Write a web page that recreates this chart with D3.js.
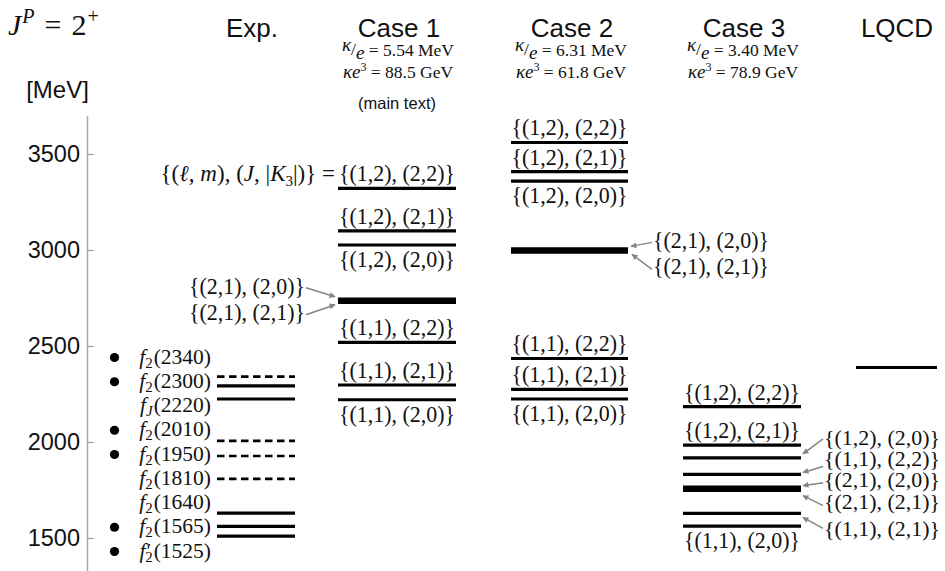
<!DOCTYPE html>
<html><head><meta charset="utf-8">
<script src="https://cdn.jsdelivr.net/npm/d3@7"></script>
<style>body{margin:0;background:#fff} svg{display:block}</style>
</head><body><svg id="c" width="945" height="571"></svg>
<script>
// ---------------- data ----------------
const columns = ["Exp.", "Case 1", "Case 2", "Case 3", "LQCD"];
const yTicks = [1500, 2000, 2500, 3000, 3500];

const expNumbers = ["2340", "2300", "2220", "2010", "1950", "1810", "1640", "1565", "1525"];
const expSymbols = ["f2", "f2", "fJ", "f2", "f2", "f2", "f2", "f2", "f2'"];
const expMass = [2340, 2292, 2224, 2006, 1927, 1808, 1630, 1561, 1510];
const expEstablished = [true, true, false, true, true, false, false, true, true];
const expDashed = [true, false, false, true, true, true, false, false, false];

const stateLabels = ["{(1,2), (2,2)}", "{(1,2), (2,1)}", "{(1,2), (2,0)}", "{(2,1), (2,0)}",
                     "{(2,1), (2,1)}", "{(1,1), (2,2)}", "{(1,1), (2,1)}", "{(1,1), (2,0)}"];
const case1Mass = [3321, 3100, 3026, 2736, 2736, 2519, 2297, 2220];
const case2Mass = [3560, 3408, 3359, 2998, 2998, 2435, 2274, 2224];
const case3Mass = [2184, 1984, 1917, 1757, 1757, 1831, 1628, 1562];
const kappaOverE = ["5.54", "6.31", "3.40"];
const kappaE3 = ["88.5", "61.8", "78.9"];
const lqcdMass = [2388];

// ---------------- layout ----------------
const svg = d3.select("#c");
const SERIF = "'Liberation Serif', 'DejaVu Serif', serif";
const SANS = "'Liberation Sans', Arial, Helvetica, sans-serif";

const y = d3.scaleLinear().domain([1500, 3500]).range([538, 154]);
const colX0 = d3.scaleOrdinal().domain(columns).range([217, 338, 511, 683, 856]);
const colW = d3.scaleOrdinal().domain(columns).range([78, 118, 117, 118, 81]);
const colCenter = d3.scaleOrdinal().domain(columns).range([252, 399, 572, 744, 897]);

// arrow marker
svg.append("defs").append("marker")
  .attr("id", "ah").attr("viewBox", "0 0 10 10").attr("refX", 9).attr("refY", 5)
  .attr("markerWidth", 7).attr("markerHeight", 6).attr("markerUnits", "userSpaceOnUse")
  .attr("orient", "auto")
  .append("path").attr("d", "M0,0 L10,5 L0,10 Z").attr("fill", "#858585");

// axis
const axisG = svg.append("g").attr("transform", "translate(87.5,0)");
const axis = d3.axisRight(y).tickValues(yTicks).tickSize(6).tickFormat("");
axisG.call(axis);
axisG.select(".domain").remove();
axisG.selectAll(".tick line").attr("stroke", "#9a9a9a").attr("stroke-width", 1.2);
axisG.append("line").attr("x1", 0).attr("x2", 0).attr("y1", 116).attr("y2", 571)
  .attr("stroke", "#a8a8a8").attr("stroke-width", 1.5);
svg.append("g").selectAll("text").data(yTicks).join("text")
  .attr("x", 80).attr("y", d => y(d) + 8).attr("text-anchor", "end")
  .attr("font-family", SANS).attr("font-size", 23.5).attr("fill", "#111").text(d => d);

// headers
svg.append("g").selectAll("text").data(columns).join("text")
  .attr("x", d => colCenter(d)).attr("y", 37).attr("text-anchor", "middle")
  .attr("font-family", SANS).attr("font-size", 26).attr("fill", "#111").text(d => d);

svg.append("text").attr("x", 57.5).attr("y", 98).attr("text-anchor", "middle")
  .attr("font-family", SANS).attr("font-size", 24).attr("fill", "#111").text("[MeV]");

// J^P = 2^+
const jp = svg.append("text").attr("x", 8).attr("y", 35).attr("font-family", SERIF)
  .attr("font-size", 30).attr("fill", "#111");
jp.append("tspan").attr("font-style", "italic").text("J");
jp.append("tspan").attr("font-style", "italic").attr("font-size", 20).attr("dx", 1).attr("dy", -12).text("P");
jp.append("tspan").attr("dx", 10).attr("dy", 12).text("=");
jp.append("tspan").attr("dx", 10).text("2");
jp.append("tspan").attr("font-size", 20).attr("dx", 1).attr("dy", -12).text("+");

// case parameters
["Case 1", "Case 2", "Case 3"].forEach((c, i) => {
  const cx = colCenter(c) - 1;
  const t1 = svg.append("text").attr("x", cx).attr("y", 56).attr("text-anchor", "middle")
    .attr("font-family", SERIF).attr("font-size", 17.5).attr("fill", "#111");
  t1.append("tspan").attr("font-style", "italic").attr("font-size", 19).attr("dy", -5).text("κ");
  t1.append("tspan").attr("dy", 4).text("/");
  t1.append("tspan").attr("font-style", "italic").attr("font-size", 19).attr("dy", 4).text("e");
  t1.append("tspan").attr("dy", -3).text(" = " + kappaOverE[i] + " MeV");
  const t2 = svg.append("text").attr("x", cx).attr("y", 78).attr("text-anchor", "middle")
    .attr("font-family", SERIF).attr("font-size", 17.5).attr("fill", "#111");
  t2.append("tspan").attr("font-style", "italic").attr("font-size", 19).text("κe");
  t2.append("tspan").attr("font-size", 12).attr("dy", -7).text("3");
  t2.append("tspan").attr("dy", 7).text(" = " + kappaE3[i] + " GeV");
});
svg.append("text").attr("x", 397).attr("y", 109).attr("text-anchor", "middle")
  .attr("font-family", SANS).attr("font-size", 16.5).attr("fill", "#111").text("(main text)");

// ---------------- Exp column ----------------
const expG = svg.append("g");
expG.selectAll("line").data(expMass).join("line")
  .attr("x1", colX0("Exp.")).attr("x2", colX0("Exp.") + colW("Exp."))
  .attr("y1", d => y(d)).attr("y2", d => y(d))
  .attr("stroke", "#000")
  .attr("stroke-width", (d, i) => expDashed[i] ? 2.7 : 3.2)
  .attr("stroke-dasharray", (d, i) => expDashed[i] ? "7.5,4.5" : null);

const expRowY = d3.scalePoint().domain(d3.range(expNumbers.length)).range([357.5, 551.5]);
expNumbers.forEach((num, i) => {
  const cy = expRowY(i);
  if (expEstablished[i]) {
    expG.append("circle").attr("cx", 114.5).attr("cy", cy).attr("r", 4.6).attr("fill", "#000");
  }
  const t = expG.append("text").attr("x", 211).attr("y", cy + 6).attr("text-anchor", "end")
    .attr("font-family", SERIF).attr("font-size", 21.5).attr("fill", "#111");
  const sym = expSymbols[i];
  t.append("tspan").attr("font-style", "italic").text("f");
  if (sym === "fJ") {
    t.append("tspan").attr("font-style", "italic").attr("font-size", 15).attr("dy", 4).text("J");
  } else if (sym === "f2'") {
    t.append("tspan").attr("dx", 1).text("′");
    t.append("tspan").attr("font-size", 15).attr("dx", -6).attr("dy", 4).text("2");
  } else {
    t.append("tspan").attr("font-size", 15).attr("dy", 4).text("2");
  }
  t.append("tspan").attr("dy", -4).attr("dx", 1).text("(" + num + ")");
});

// ---------------- model cases ----------------
function drawLevels(col, masses) {
  const groups = d3.rollups(masses, v => v.length, d => d);
  svg.append("g").selectAll("line").data(groups).join("line")
    .attr("x1", colX0(col)).attr("x2", colX0(col) + colW(col))
    .attr("y1", d => y(d[0])).attr("y2", d => y(d[0]))
    .attr("stroke", "#000").attr("stroke-width", d => d[1] > 1 ? 6.5 : 3.2);
}
function stateText(x, yy, txt, anchor, fs) {
  return svg.append("text").attr("x", x).attr("y", yy).attr("text-anchor", anchor)
    .attr("font-family", SERIF).attr("font-size", fs || 22.5).attr("fill", "#111")
    .attr("textLength", 116).attr("lengthAdjust", "spacingAndGlyphs").text(txt);
}
function arrow(x1, y1, x2, y2) {
  svg.append("line").attr("x1", x1).attr("y1", y1).attr("x2", x2).attr("y2", y2)
    .attr("stroke", "#858585").attr("stroke-width", 1.5).attr("marker-end", "url(#ah)");
}
// label placement: "a" above, "b" below, side labels: [side, centerOffset, tailX, tailOffset, tipX, tipOffset]
const case1Place = ["a", "a", "b", ["L", -13, 306, -13, 335, -4], ["L", 13, 306, 14, 335, 4], "a", "a", "b"];
const case2Place = ["a", "a", "b", ["R", -8, 652, -8, 631, -4], ["R", 18, 652, 19, 632, 4], "a", "a", "b"];
const case3Place = ["a", "a", ["R", -19, 823, -19, 803, -4], ["R", -8, 823, -6, 803, -3],
                    ["R", 14, 823, 17, 803, 7], ["R", -14, 823, -8, 803, -2], ["R", 17, 823, 15, 803, 4], "b"];

function drawCase(col, masses, place) {
  drawLevels(col, masses);
  const cx = colX0(col) + colW(col) / 2;
  masses.forEach((m, i) => {
    const ly = y(m), p = place[i];
    if (p === "a") stateText(cx, ly - 7, stateLabels[i], "middle");
    else if (p === "b") stateText(cx, ly + 22, stateLabels[i], "middle");
    else {
      const [side, off, tx, toff, hx, hoff] = p;
      if (side === "L") stateText(tx - 1, ly + off + 6, stateLabels[i], "end");
      else stateText(tx + 1, ly + off + 6, stateLabels[i], "start", col === "Case 3" ? 21 : 22.5);
      arrow(tx, ly + toff, hx, ly + hoff);
    }
  });
}
drawCase("Case 1", case1Mass, case1Place);
drawCase("Case 2", case2Mass, case2Place);
drawCase("Case 3", case3Mass, case3Place);
drawLevels("LQCD", lqcdMass);

// quantum number legend
const lg = svg.append("text").attr("x", 335).attr("y", y(case1Mass[0]) - 7).attr("text-anchor", "end")
  .attr("font-family", SERIF).attr("font-size", 23).attr("fill", "#111");
lg.append("tspan").text("{(");
lg.append("tspan").attr("font-style", "italic").text("ℓ");
lg.append("tspan").text(", ");
lg.append("tspan").attr("font-style", "italic").text("m");
lg.append("tspan").text("), (");
lg.append("tspan").attr("font-style", "italic").text("J");
lg.append("tspan").text(", |");
lg.append("tspan").attr("font-style", "italic").text("K");
lg.append("tspan").attr("font-size", 15).attr("dy", 5).text("3");
lg.append("tspan").attr("dy", -5).text("|)}  =  ");
</script>
</body></html>
